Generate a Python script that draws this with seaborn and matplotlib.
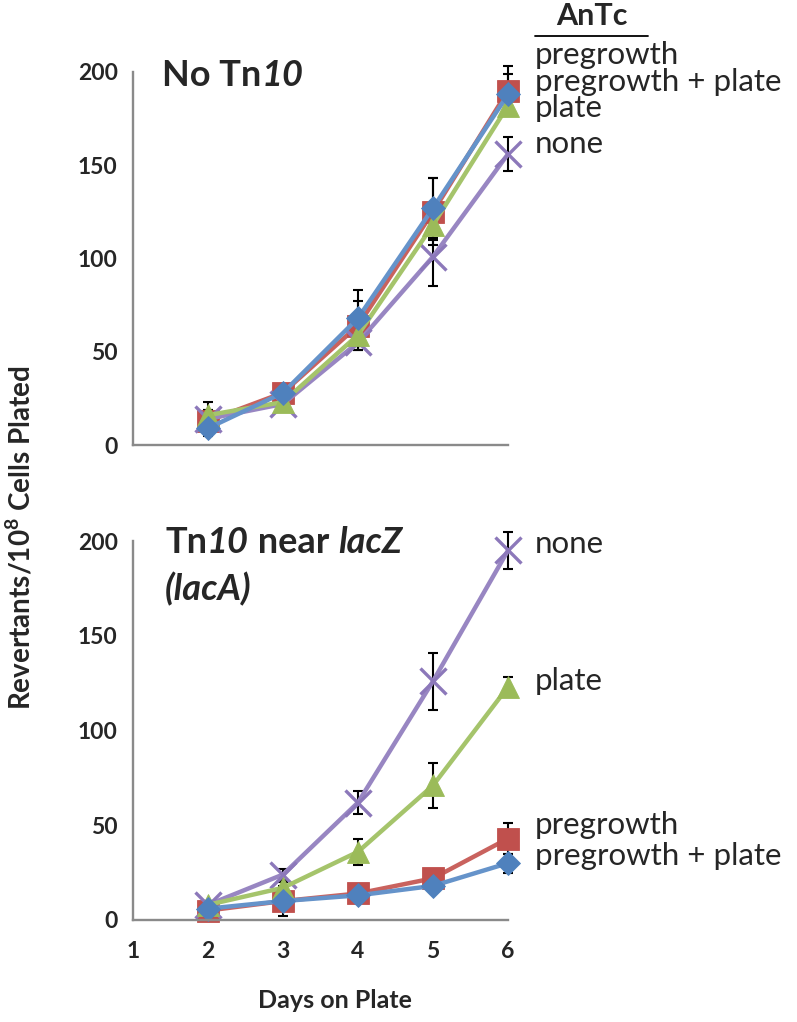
import matplotlib
matplotlib.use("Agg")
import matplotlib.pyplot as plt
import seaborn as sns
import pandas as pd
from matplotlib.lines import Line2D

# ---------------- data ----------------
days = [2, 3, 4, 5, 6]
series = ["pregrowth", "pregrowth + plate", "plate", "none"]

# Panel A: No Tn10
top_pregrowth = [13, 28, 64, 125, 190]
top_pregrowth_plate = [9, 28, 68, 127, 188]
top_plate = [16, 23, 59, 118, 182]
top_none = [14, 22, 55, 101, 156]
top_pregrowth_err = [6, 3, 13, 18, 13]
top_pregrowth_plate_err = [4, 3, 15, 16, 11]
top_plate_err = [7, 2, 6, 8, 5]
top_none_err = [5, 2, 4, 16, 9]

# Panel B: Tn10 near lacZ (lacA)
bot_pregrowth = [5, 10, 14, 22, 43]
bot_pregrowth_plate = [6, 10, 13, 18, 30]
bot_plate = [8, 17, 36, 71, 123]
bot_none = [8, 24, 62, 126, 195]
bot_pregrowth_err = [1, 8, 3, 2, 8]
bot_pregrowth_plate_err = [1, 2, 2, 2, 5]
bot_plate_err = [2, 3, 7, 12, 5]
bot_none_err = [2, 3, 6, 15, 10]

y_ticks = [0, 50, 100, 150, 200]
x_ticks = [1, 2, 3, 4, 5, 6]
legend_title = "AnTc"
x_label = "Days on Plate"
y_label = "Revertants/10$^{\\mathbf{8}}$ Cells Plated"

# ---------------- style ----------------
sns.set_theme(style="white")
FONT = ["Lato", "DejaVu Sans"]
plt.rcParams["font.family"] = FONT
plt.rcParams["mathtext.fontset"] = "custom"
plt.rcParams["mathtext.rm"] = "Lato"
plt.rcParams["mathtext.bf"] = "Lato:bold"

marker_colors = {"pregrowth": "#C0504D", "pregrowth + plate": "#4F81BD",
                 "plate": "#9BBB59", "none": "#8C78BA"}
line_colors = {"pregrowth": "#C9625E", "pregrowth + plate": "#6593CA",
               "plate": "#A5C46B", "none": "#9886C2"}
markers = {"pregrowth": "s", "pregrowth + plate": "D", "plate": "^", "none": "x"}
msize = {"pregrowth": 16, "pregrowth + plate": 12.5, "plate": 16, "none": 19}
draw_order = ["pregrowth", "none", "plate", "pregrowth + plate"]

W, H = 797, 1022
fig = plt.figure(figsize=(W / 100, H / 100), dpi=100)


def fx(px):
    return px / W


def fy(py):
    return 1 - py / H


ax_top = fig.add_axes([fx(133), fy(445), fx(508) - fx(133), fy(72) - fy(445)])
ax_bot = fig.add_axes([fx(133), fy(920), fx(508) - fx(133), fy(541) - fy(920)])

panels = [
    (ax_top, {"pregrowth": (top_pregrowth, top_pregrowth_err),
              "pregrowth + plate": (top_pregrowth_plate, top_pregrowth_plate_err),
              "plate": (top_plate, top_plate_err),
              "none": (top_none, top_none_err)}),
    (ax_bot, {"pregrowth": (bot_pregrowth, bot_pregrowth_err),
              "pregrowth + plate": (bot_pregrowth_plate, bot_pregrowth_plate_err),
              "plate": (bot_plate, bot_plate_err),
              "none": (bot_none, bot_none_err)}),
]

for ax, d in panels:
    for s in draw_order:
        vals, err = d[s]
        ax.errorbar(days, vals, yerr=err, fmt="none", ecolor="black",
                    elinewidth=1.5, capsize=3.8, capthick=1.5, zorder=1.8)
    for s in draw_order:
        vals, err = d[s]
        df = pd.DataFrame({"day": days, "value": vals})
        sns.lineplot(data=df, x="day", y="value", ax=ax, color=line_colors[s],
                     marker=markers[s], markersize=msize[s],
                     markerfacecolor=marker_colors[s],
                     markeredgewidth=2.4 if s == "none" else 0.6,
                     markeredgecolor=marker_colors[s], linewidth=3.2,
                     errorbar=None, zorder=2)
    ax.set_xlim(1, 6)
    ax.set_ylim(0, 200)
    ax.set_yticks(y_ticks)
    ax.set_xticks(x_ticks)
    ax.set_xlabel("")
    ax.set_ylabel("")
    for side in ["top", "right"]:
        ax.spines[side].set_visible(False)
    for side in ["left", "bottom"]:
        ax.spines[side].set_color("#8a8a8a")
        ax.spines[side].set_linewidth(1.7)
    ax.tick_params(axis="both", direction="out", length=6, width=1.7,
                   color="#8a8a8a", labelsize=16.5, pad=5)
    for lab in ax.get_yticklabels() + ax.get_xticklabels():
        lab.set_fontweight("bold")
    ax.patch.set_alpha(0)
    for ln in ax.lines:
        ln.set_clip_on(False)
    for coll in ax.collections:
        coll.set_clip_on(False)

ax_top.tick_params(axis="x", labelbottom=False)
ax_bot.tick_params(axis="x", pad=9)

fig.text(fx(335), fy(1000), x_label, ha="center", va="center",
         fontsize=18, fontweight="bold")
fig.text(fx(20), fy(538), y_label, rotation=90, ha="center", va="center",
         fontsize=20, fontweight="bold")

# panel titles with mixed italic
TS = 26
t1 = fig.text(fx(162), fy(86), "No Tn", fontsize=TS, fontweight="bold", va="baseline")
ax_top.annotate("10", xy=(1, 0), xycoords=t1, va="bottom", ha="left",
                fontsize=TS, fontweight="bold", fontstyle="italic")

t2 = fig.text(fx(165), fy(553), "Tn", fontsize=TS, fontweight="bold", va="baseline")
a2 = ax_bot.annotate("10", xy=(1, 0), xycoords=t2, va="bottom", ha="left",
                     fontsize=TS, fontweight="bold", fontstyle="italic")
a3 = ax_bot.annotate(" near ", xy=(1, 0), xycoords=a2, va="bottom", ha="left",
                     fontsize=TS, fontweight="bold")
ax_bot.annotate("lacZ", xy=(1, 0), xycoords=a3, va="bottom", ha="left",
                fontsize=TS, fontweight="bold", fontstyle="italic")
fig.text(fx(165), fy(600), "(lacA)", fontsize=TS, fontweight="bold",
         fontstyle="italic", va="baseline")

# legend-like direct labels
LS = 22.5
fig.text(fx(592), fy(25), legend_title, ha="center", va="baseline",
         fontsize=22, fontweight="bold")
fig.add_artist(Line2D([fx(535), fx(648)], [fy(36), fy(36)], color="black", lw=1.3))
top_label_y = {"pregrowth": 64, "pregrowth + plate": 91, "plate": 117, "none": 153}
bot_label_y = {"none": 553, "plate": 690, "pregrowth": 834, "pregrowth + plate": 865}
for s in series:
    fig.text(fx(535), fy(top_label_y[s]), s, ha="left", va="baseline", fontsize=LS)
    fig.text(fx(535), fy(bot_label_y[s]), s, ha="left", va="baseline", fontsize=LS)

fig.savefig("out.png", dpi=100, facecolor="white")
